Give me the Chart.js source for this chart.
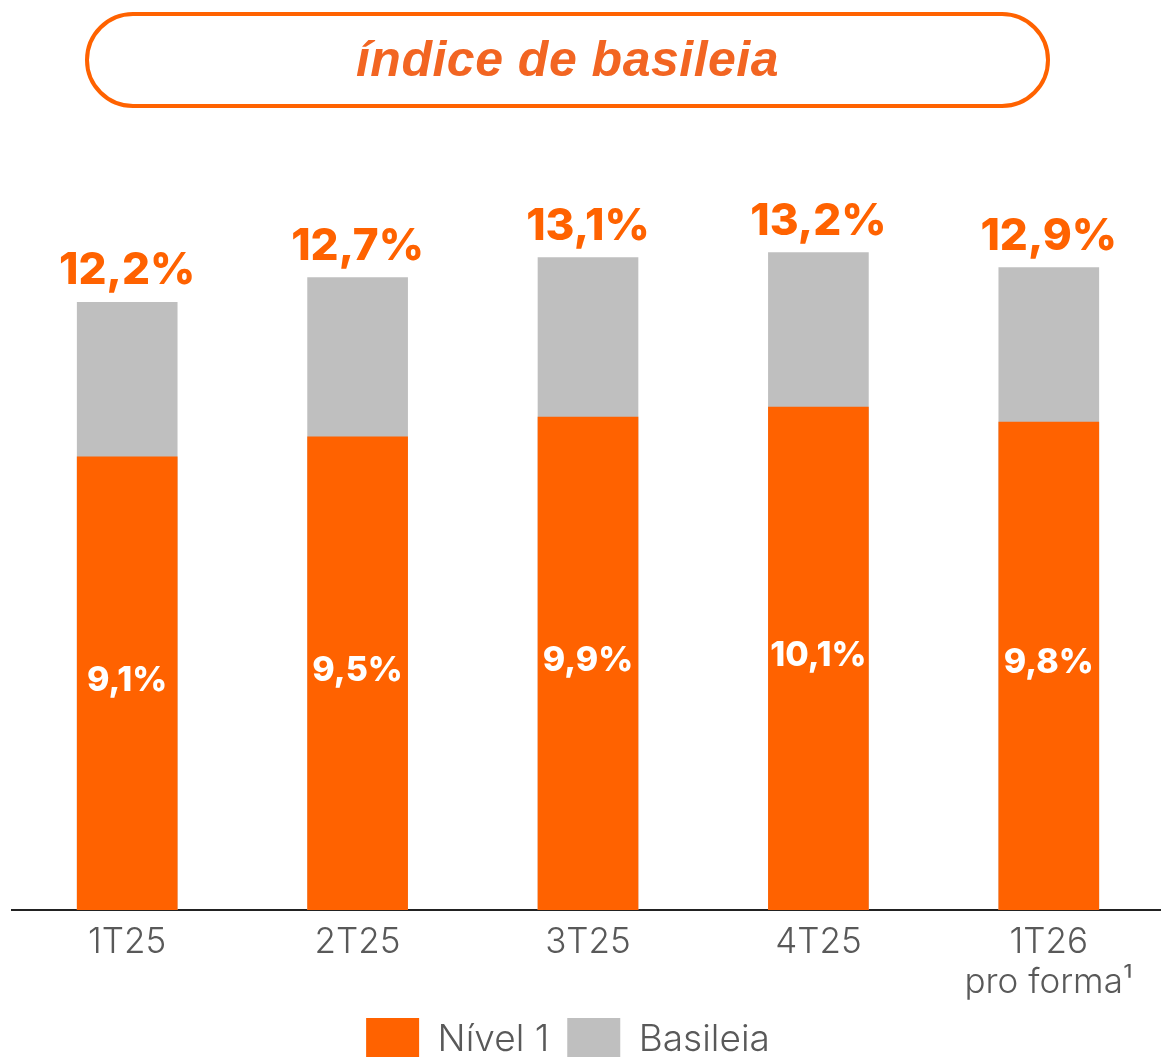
<!DOCTYPE html>
<html>
<head>
<meta charset="utf-8">
<script src="https://cdn.jsdelivr.net/npm/chart.js@4.4.1/dist/chart.umd.min.js"></script>
<style>
  html, body { margin: 0; padding: 0; background: #ffffff; overflow: hidden; width: 1161px; height: 1057px; }
  #title {
    position: absolute; left: 85px; top: 12px; width: 965px; height: 96px;
    box-sizing: border-box; border: 4px solid #FF6200; border-radius: 48px;
    display: flex; align-items: center; justify-content: center;
    font-family: "Liberation Sans", Arial, sans-serif; font-style: italic; font-weight: bold;
    font-size: 50px; letter-spacing: 0.5px; color: #F26522; padding-bottom: 2px;
  }
  #wrap { position: absolute; left: 0; top: 0; width: 1170px; height: 1072px; }
</style>
</head>
<body>
<div id="wrap"><canvas id="c"></canvas></div>
<div id="title">índice de basileia</div>
<script>
const categories = ["1T25", "2T25", "3T25", "4T25", ["1T26", "pro forma¹"]];
const nivel1 = [9.1, 9.5, 9.9, 10.1, 9.8];
const basileia = [12.2, 12.7, 13.1, 13.2, 12.9];
const seriesNames = ["Nível 1", "Basileia"];

const ORANGE = "#FF6200";
const GRAY = "#BFBFBF";
const TEXT_GRAY = "#595959";
const fmt = v => v.toFixed(1).replace(".", ",") + "%";

const labelPlugin = {
  id: "valueLabels",
  afterLayout(chart) {
    // nudge the legend slightly left, as in the reference
    if (chart.legend) { chart.legend.left -= 20; chart.legend.right -= 20; }
  },
  afterDatasetsDraw(chart) {
    const ctx = chart.ctx;
    const mTot = chart.getDatasetMeta(1);
    const mN1 = chart.getDatasetMeta(0);
    ctx.save();
    ctx.textAlign = "center";
    mTot.data.forEach((el, i) => {
      ctx.fillStyle = ORANGE;
      ctx.font = "800 44px Inter";
      ctx.textBaseline = "alphabetic";
      ctx.fillText(fmt(basileia[i]), el.x, el.y - 18);
    });
    mN1.data.forEach((el, i) => {
      ctx.fillStyle = "#ffffff";
      ctx.font = "800 34px Inter";
      ctx.textBaseline = "middle";
      ctx.fillText(fmt(nivel1[i]), el.x, (el.y + el.base) / 2 - 3);
    });
    ctx.restore();
  }
};

new Chart(document.getElementById("c"), {
  type: "bar",
  data: {
    labels: categories,
    datasets: [
      { label: seriesNames[0], data: nivel1, backgroundColor: ORANGE, grouped: false, barThickness: 100 },
      { label: seriesNames[1], data: basileia, backgroundColor: GRAY, grouped: false, barThickness: 100 }
    ]
  },
  options: {
    responsive: true,
    maintainAspectRatio: false,
    animation: false,
    layout: { padding: { top: 163, left: 12, right: 6, bottom: 0 } },
    plugins: {
      legend: {
        position: "bottom",
        labels: {
          boxWidth: 53, boxHeight: 44, color: TEXT_GRAY, padding: 18,
          font: { family: "Inter", size: 37, weight: 300, lineHeight: 1.15 }
        }
      },
      tooltip: { enabled: false }
    },
    scales: {
      x: {
        grid: { display: false, drawTicks: false },
        border: { display: true, color: "#222222", width: 2 },
        ticks: { color: TEXT_GRAY, padding: 12, font: { family: "Inter", size: 35, weight: 300, lineHeight: 1.15 } },
        afterFit(s) { s.height = 90; }
      },
      y: { display: false, min: 0, max: 15 }
    }
  },
  plugins: [labelPlugin]
});
</script>
</body>
</html>
